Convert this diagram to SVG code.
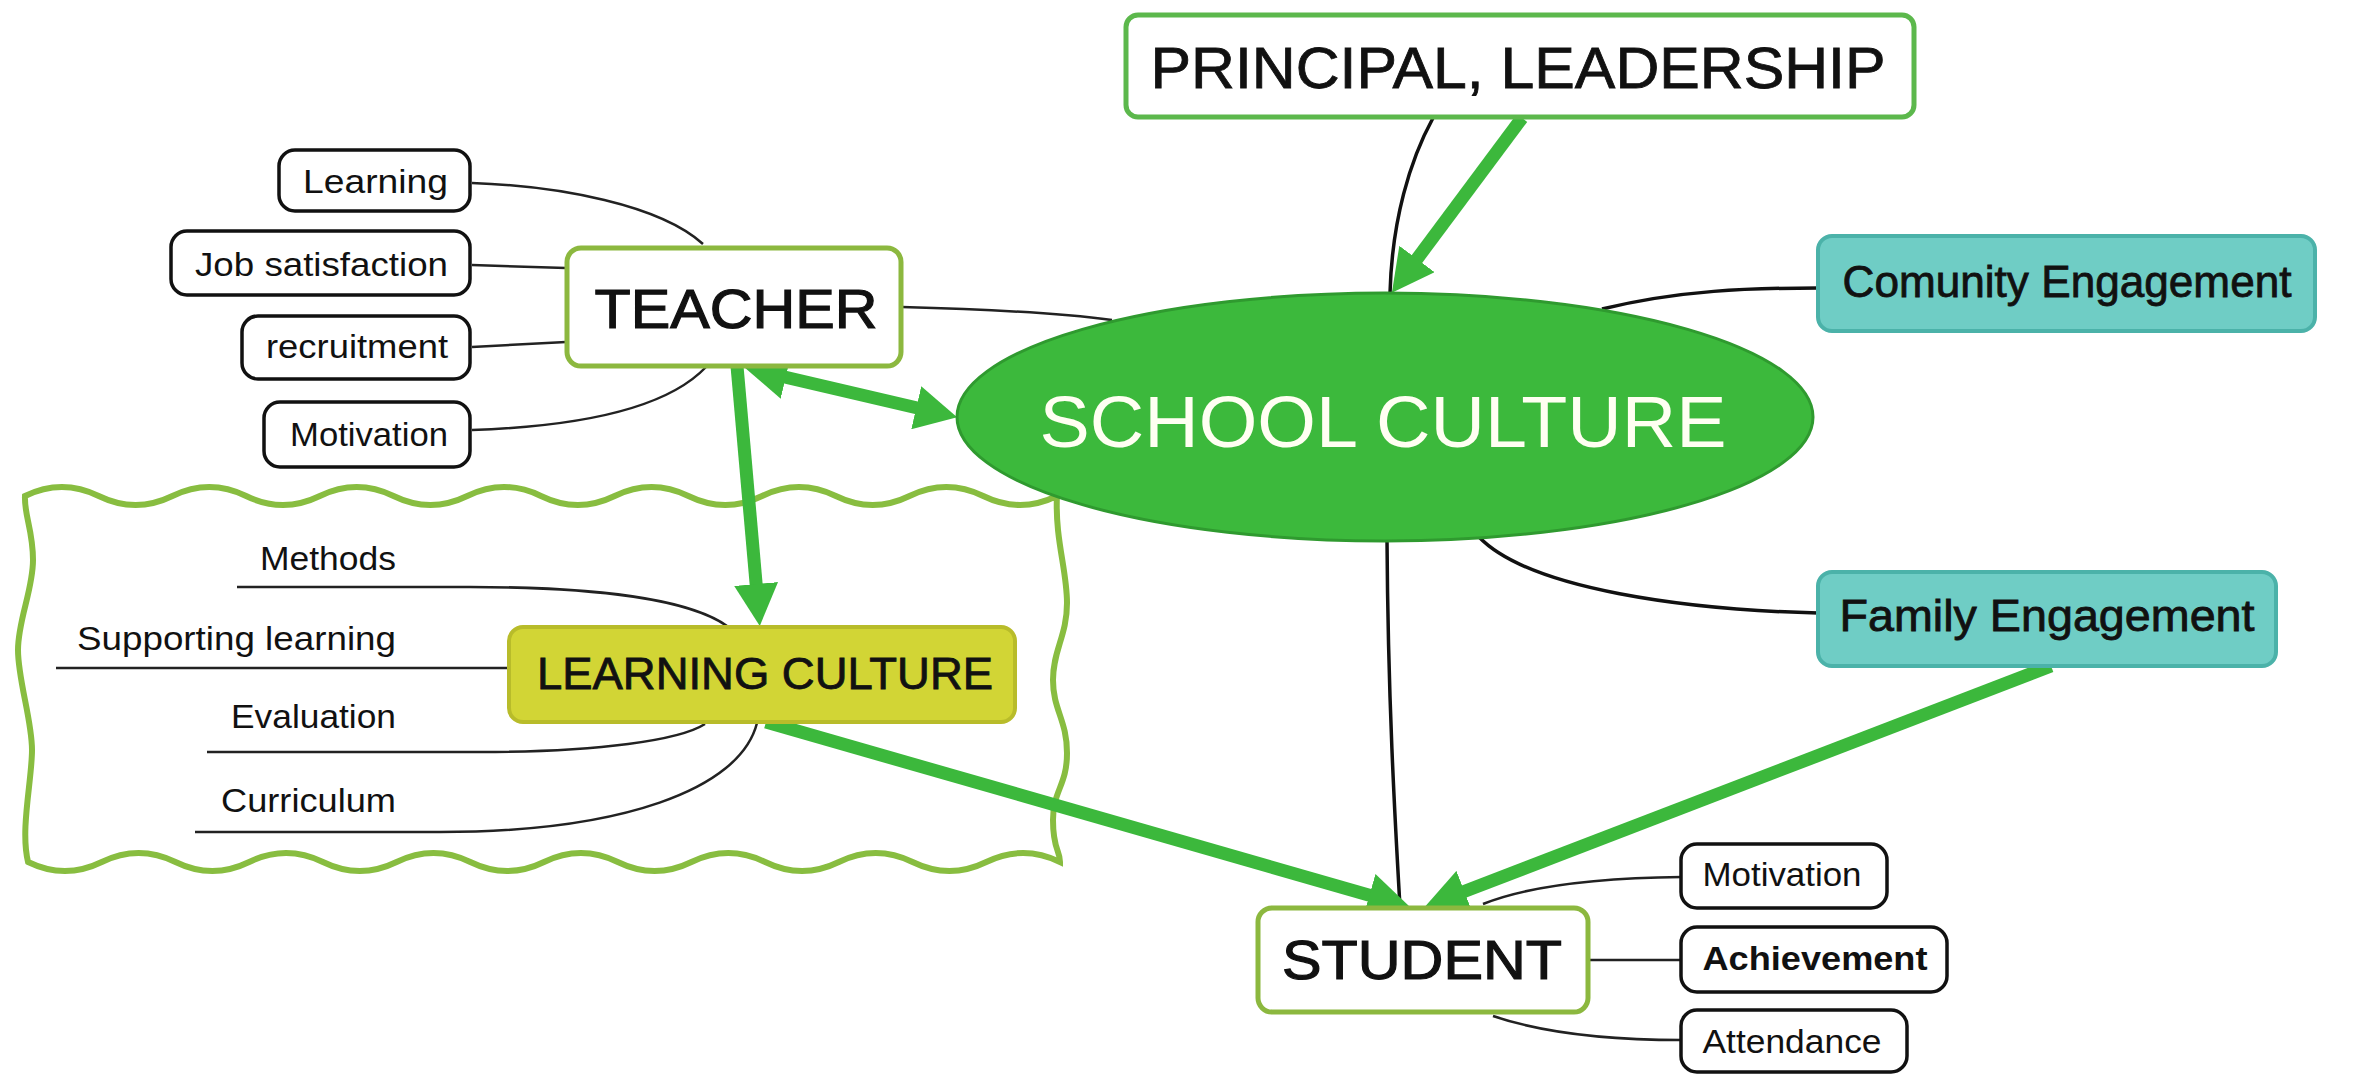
<svg xmlns="http://www.w3.org/2000/svg" width="2356" height="1076" viewBox="0 0 2356 1076">
<style>
.box{fill:#fff;stroke:#8cb83f;stroke-width:5}
.pbox{fill:#fff;stroke:#5cb84c;stroke-width:5}
.leaf{fill:#fff;stroke:#111;stroke-width:3.5}
.teal{fill:#6fcdc5;stroke:#4bb2a9;stroke-width:4}
.lc{fill:#d2d535;stroke:#b8bc2a;stroke-width:4}
.t{font-family:"Liberation Sans",Arial,sans-serif;fill:#111}
.s{font-size:33px}
.h{stroke:#111;stroke-width:1.2}
.m{stroke:#111;stroke-width:0.8}
.thin{fill:none;stroke:#222;stroke-width:2.5}
.main{fill:none;stroke:#111;stroke-width:3.5}
.arrow{fill:none;stroke:#3cb83c;stroke-width:13;marker-end:url(#ah)}
</style>
<defs>
<marker id="ah" markerUnits="userSpaceOnUse" markerWidth="42" markerHeight="44" viewBox="0 0 42 44" refX="10" refY="22" orient="auto-start-reverse">
<path d="M0,0 L42,22 L0,44 z" fill="#3cb83c"/>
</marker>
</defs>
<rect width="2356" height="1076" fill="#fff"/>
<g id="frame">
<path d="M25,496 q36.86,-18 73.71,0 t73.71,0 t73.71,0 t73.71,0 t73.71,0 t73.71,0 t73.71,0 t73.71,0 t73.71,0 t73.71,0 t73.71,0 t73.71,0 t73.71,0 t73.71,0 C1055,540 1067,570 1067,603 S1053,650 1053,680 S1067,720 1067,753 S1053,790 1053,820 S1060,850 1060,862 q-36.86,-18 -73.71,0 t-73.71,0 t-73.71,0 t-73.71,0 t-73.71,0 t-73.71,0 t-73.71,0 t-73.71,0 t-73.71,0 t-73.71,0 t-73.71,0 t-73.71,0 t-73.71,0 t-73.71,0 C20,830 32,780 32,750 S18,680 18,650 S33,590 33,560 S24,515 25,496 Z" fill="#fff" stroke="#88bd40" stroke-width="6"/>
</g>
<g id="connectors">
<path class="main" d="M1433,118 C1410,160 1392,220 1390,293"/>
<path class="thin" d="M902,307 C980,309 1050,312 1112,320"/>
<path class="main" d="M1602,309 C1680,290 1750,288 1818,288" stroke-width="4"/>
<path class="main" d="M1479,537 C1530,590 1690,610 1818,613" stroke-width="4"/>
<path class="main" d="M1387,540 C1388,700 1395,820 1400,907" stroke-width="3"/>
<path class="thin" d="M472,183 C560,186 660,205 703,244"/>
<path class="thin" d="M472,265 L566,268"/>
<path class="thin" d="M472,347 L566,342"/>
<path class="thin" d="M472,430 C590,426 670,405 706,367"/>
<path class="thin" d="M237,587 L470,587 C600,587 690,600 727,626" stroke-width="3"/>
<path class="thin" d="M56,668 L508,668" stroke-width="3"/>
<path class="thin" d="M207,752 L480,752 C600,752 680,740 705,724" stroke-width="3"/>
<path class="thin" d="M195,832 L440,832 C620,832 740,790 757,723" stroke-width="3"/>
<path class="thin" d="M1483,904 C1530,885 1600,878 1682,877"/>
<path class="thin" d="M1588,960 L1682,960" stroke="#555" stroke-width="4"/>
<path class="thin" d="M1493,1016 C1540,1032 1600,1040 1682,1040"/>
<path class="arrow" d="M1522,118 L1411,267"/>
<path class="arrow" d="M776,375 L926,410" marker-start="url(#ah)"/>
<path class="arrow" d="M737,366 L757,594"/>
<path class="arrow" d="M766,722 L1379,898"/>
<path class="arrow" d="M2051,666 L1455,895"/>
</g>
<g id="school-culture">
<ellipse cx="1385" cy="417" rx="428" ry="124" fill="#3cb93c" stroke="#2f9a2f" stroke-width="3"/>
<text class="t" x="1383" y="447" font-size="72" text-anchor="middle" textLength="687" lengthAdjust="spacingAndGlyphs" style="fill:#fffff2">SCHOOL CULTURE</text>
</g>
<g id="principal">
<rect class="pbox" x="1126" y="15" width="788" height="102" rx="12"/>
<text class="t m" x="1518" y="88" font-size="58" text-anchor="middle" textLength="735" lengthAdjust="spacingAndGlyphs">PRINCIPAL, LEADERSHIP</text>
</g>
<g id="teacher">
<rect class="box" x="567" y="248" width="334" height="118" rx="14"/>
<text class="t h" x="736" y="328" font-size="56" text-anchor="middle" textLength="283" lengthAdjust="spacingAndGlyphs">TEACHER</text>
</g>
<g id="community">
<rect class="teal" x="1818" y="236" width="497" height="95" rx="14"/>
<text class="t m" x="2067" y="297" font-size="44" text-anchor="middle" textLength="449" lengthAdjust="spacingAndGlyphs">Comunity Engagement</text>
</g>
<g id="family">
<rect class="teal" x="1818" y="572" width="458" height="94" rx="14"/>
<text class="t m" x="2047" y="631" font-size="44" text-anchor="middle" textLength="415" lengthAdjust="spacingAndGlyphs">Family Engagement</text>
</g>
<g id="learning-culture">
<rect class="lc" x="509" y="627" width="506" height="95" rx="14"/>
<text class="t m" x="765" y="689" font-size="44" text-anchor="middle" textLength="456" lengthAdjust="spacingAndGlyphs">LEARNING CULTURE</text>
</g>
<g id="student">
<rect class="box" x="1258" y="908" width="330" height="104" rx="14"/>
<text class="t h" x="1422" y="979" font-size="56" text-anchor="middle" textLength="280" lengthAdjust="spacingAndGlyphs">STUDENT</text>
</g>
<g id="t-learning">
<rect class="leaf" x="279" y="150" width="191" height="61" rx="16"/>
<text class="t s" x="448" y="193" text-anchor="end" textLength="145" lengthAdjust="spacingAndGlyphs">Learning</text>
</g>
<g id="t-job">
<rect class="leaf" x="171" y="231" width="299" height="64" rx="16"/>
<text class="t s" x="448" y="276" text-anchor="end" textLength="253" lengthAdjust="spacingAndGlyphs">Job satisfaction</text>
</g>
<g id="t-recruitment">
<rect class="leaf" x="242" y="316" width="228" height="63" rx="16"/>
<text class="t s" x="448" y="358" text-anchor="end" textLength="182" lengthAdjust="spacingAndGlyphs">recruitment</text>
</g>
<g id="t-motivation">
<rect class="leaf" x="264" y="402" width="206" height="65" rx="16"/>
<text class="t s" x="448" y="446" text-anchor="end" textLength="158" lengthAdjust="spacingAndGlyphs">Motivation</text>
</g>
<g id="lc-methods">
<text class="t s" x="396" y="570" text-anchor="end" textLength="136" lengthAdjust="spacingAndGlyphs">Methods</text>
</g>
<g id="lc-supporting">
<text class="t s" x="396" y="650" text-anchor="end" textLength="319" lengthAdjust="spacingAndGlyphs">Supporting learning</text>
</g>
<g id="lc-evaluation">
<text class="t s" x="396" y="728" text-anchor="end" textLength="165" lengthAdjust="spacingAndGlyphs">Evaluation</text>
</g>
<g id="lc-curriculum">
<text class="t s" x="396" y="812" text-anchor="end" textLength="175" lengthAdjust="spacingAndGlyphs">Curriculum</text>
</g>
<g id="s-motivation">
<rect class="leaf" x="1681" y="844" width="206" height="64" rx="16"/>
<text class="t s" x="1782" y="886" text-anchor="middle" textLength="159" lengthAdjust="spacingAndGlyphs">Motivation</text>
</g>
<g id="s-achievement">
<rect class="leaf" x="1681" y="927" width="266" height="65" rx="16"/>
<text class="t s" x="1815" y="970" text-anchor="middle" font-weight="bold" textLength="225" lengthAdjust="spacingAndGlyphs">Achievement</text>
</g>
<g id="s-attendance">
<rect class="leaf" x="1681" y="1010" width="226" height="62" rx="16"/>
<text class="t s" x="1792" y="1053" text-anchor="middle" textLength="179" lengthAdjust="spacingAndGlyphs">Attendance</text>
</g>
</svg>
